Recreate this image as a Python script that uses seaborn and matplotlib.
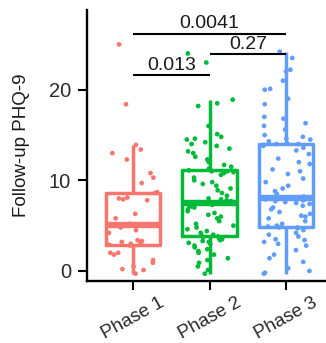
import numpy as np
import pandas as pd
import matplotlib
matplotlib.use("Agg")
import matplotlib.pyplot as plt
import seaborn as sns

categories = ["Phase 1", "Phase 2", "Phase 3"]
colors = ["#F8766D", "#00BA38", "#619CFF"]

phase1 = [-0.3, 0.1, 0.2, 0.5, 0.9, 1.2, 1.8, 2.0, 2.0, 2.8, 2.9, 3.0, 3.1, 3.2, 3.3, 3.4,
          4.2, 4.5, 4.8, 5.1, 5.1, 5.1, 5.2, 5.8, 6.3, 7.8, 7.9, 8.0, 8.1, 8.6, 8.7, 9.7,
          10.3, 10.8, 12.3, 13.0, 13.4, 13.9, 18.4, 25.0]
phase2 = [-0.3, 0.1, 0.5, 0.9, 1.2, 1.4, 1.8, 2.0, 2.2, 2.4, 2.6, 2.8, 3.0, 3.1, 3.2, 3.3,
          3.4, 3.5, 3.6, 3.6, 3.7, 3.8, 3.9,
          4.0, 4.2, 4.4, 4.6, 4.8, 5.0, 5.2, 5.5, 5.8, 6.0, 6.2, 6.4, 6.6, 6.8, 7.0, 7.1,
          7.2, 7.3, 7.3, 7.4, 7.4, 7.5,
          7.5, 7.6, 7.6, 7.7, 7.8, 7.9, 8.0, 8.3, 8.6, 8.9, 9.1, 9.4, 9.6, 9.8, 10.0, 10.3,
          10.6, 10.8, 10.9, 11.0, 11.0, 11.1,
          11.3, 11.5, 11.7, 12.0, 12.3, 12.6, 13.0, 13.2, 13.5, 13.8, 14.0, 14.2, 14.5,
          14.6, 14.8, 15.1, 16.0, 18.2, 18.5, 18.9, 23.0, 24.0]
phase3 = [-0.3, -0.2, 0.0, 0.3, 1.0, 1.4, 1.8, 2.3, 2.8, 3.0, 3.2, 3.4, 3.5, 3.8, 4.0, 4.2,
          4.5, 4.7, 4.8, 4.8, 4.9,
          5.0, 5.2, 5.5, 5.8, 6.0, 6.1, 6.3, 6.5, 6.8, 7.0, 7.2, 7.4, 7.5, 7.6, 7.7, 7.8,
          7.9, 7.9, 8.0, 8.0,
          8.2, 8.5, 8.8, 9.1, 9.4, 9.8, 10.2, 10.7, 11.0, 11.2, 11.8, 12.0, 12.4, 12.9,
          13.3, 13.6, 13.8, 13.9, 14.0, 14.0,
          14.1, 14.3, 14.5, 14.6, 14.8, 15.0, 15.6, 16.0, 16.3, 16.8, 17.0, 18.4, 19.0,
          20.0, 20.1, 21.0, 22.0, 22.2, 23.5, 24.2]

comparisons = [("Phase 1", "Phase 2", 21.6, "0.013"),
               ("Phase 2", "Phase 3", 23.9, "0.27"),
               ("Phase 1", "Phase 3", 26.2, "0.0041")]
yticks = [0, 10, 20]

df = pd.DataFrame({
    "phase": [categories[0]] * len(phase1) + [categories[1]] * len(phase2) + [categories[2]] * len(phase3),
    "value": phase1 + phase2 + phase3,
})

sns.set_style("ticks")
plt.rcParams["font.family"] = ["Liberation Sans", "DejaVu Sans"]

fig = plt.figure(figsize=(3.26, 3.43), dpi=100)
ax = fig.add_axes([0.267, 0.181, 0.733, 0.790])

pal = dict(zip(categories, colors))
sns.boxplot(data=df, x="phase", y="value", hue="phase", palette=pal, order=categories,
            hue_order=categories, fill=False, showfliers=False, showcaps=False,
            width=0.71, linewidth=2.5, medianprops={"linewidth": 4.6}, legend=False, ax=ax)
np.random.seed(3)
sns.stripplot(data=df, x="phase", y="value", hue="phase", palette=pal, order=categories,
              hue_order=categories, jitter=0.33, size=3.4, linewidth=0, legend=False,
              zorder=5, ax=ax)

for a, b, y, label in comparisons:
    xa, xb = categories.index(a), categories.index(b)
    ax.plot([xa, xb], [y, y], color="black", lw=1.5, zorder=6, solid_capstyle="butt")
    ax.text((xa + xb) / 2, y + 0.15, label, ha="center", va="bottom", fontsize=14,
            color="#1a1a1a", zorder=7)

ax.set_xlim(-0.60, 2.52)
ax.set_ylim(-1.1, 28.8)
ax.set_yticks(yticks)
ax.set_xlabel("")
ax.set_ylabel("Follow-up PHQ-9", fontsize=13.5, color="#1a1a1a")
ax.yaxis.set_label_coords(-0.24, 0.5)
ax.tick_params(axis="both", width=1.5, length=6.5, labelsize=14.5, color="black",
               labelcolor="#2a2a2a")
ax.tick_params(axis="y", pad=5)
ax.tick_params(axis="x", pad=3, labelsize=13.5)
for lab in ax.get_xticklabels():
    lab.set_rotation(29)
    lab.set_ha("center")
for s in ["left", "bottom"]:
    ax.spines[s].set_linewidth(1.7)
    ax.spines[s].set_color("black")
sns.despine(ax=ax)

fig.savefig("out.png", dpi=100)
